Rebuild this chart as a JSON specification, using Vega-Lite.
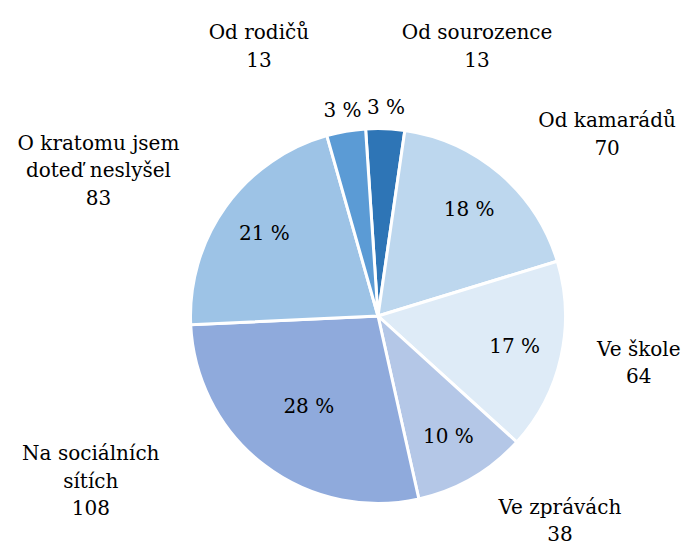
{
  "$schema": "https://vega.github.io/schema/vega-lite/v6.json",
  "autosize": "none",
  "width": 614,
  "height": 462,
  "padding": {"left": 71, "top": 85, "right": 0, "bottom": 0},
  "background": "white",
  "config": {"view": {"stroke": null}, "font": "DejaVu Serif"},
  "data": {
    "values": [
      {"zdroj": "Od sourozence", "pocet": 13, "podil": "3 %", "poradi": 1, "stitek": "Od sourozence\n13"},
      {"zdroj": "Od kamarádů", "pocet": 70, "podil": "18 %", "poradi": 2, "stitek": "Od kamarádů\n70"},
      {"zdroj": "Ve škole", "pocet": 64, "podil": "17 %", "poradi": 3, "stitek": "Ve škole\n64"},
      {"zdroj": "Ve zprávách", "pocet": 38, "podil": "10 %", "poradi": 4, "stitek": "Ve zprávách\n38"},
      {"zdroj": "Na sociálních sítích", "pocet": 108, "podil": "28 %", "poradi": 5, "stitek": "Na sociálních\nsítích\n108"},
      {"zdroj": "O kratomu jsem doteď neslyšel", "pocet": 83, "podil": "21 %", "poradi": 6, "stitek": "O kratomu jsem\ndoteď neslyšel\n83"},
      {"zdroj": "Od rodičů", "pocet": 13, "podil": "3 %", "poradi": 7, "stitek": "Od rodičů\n13"}
    ]
  },
  "encoding": {
    "theta": {"field": "pocet", "type": "quantitative", "stack": true, "scale": {"range": [-0.0663, 6.2169]}},
    "order": {"field": "poradi", "type": "quantitative"}
  },
  "layer": [
    {
      "mark": {"type": "arc", "outerRadius": 187.5, "stroke": "white", "strokeWidth": 3},
      "encoding": {
        "color": {
          "field": "zdroj", "type": "nominal", "legend": null,
          "scale": {
            "domain": ["Od sourozence", "Od kamarádů", "Ve škole", "Ve zprávách", "Na sociálních sítích", "O kratomu jsem doteď neslyšel", "Od rodičů"],
            "range": ["#2E75B6", "#BDD7EE", "#DEEBF7", "#B4C7E7", "#8FAADC", "#9DC3E6", "#5B9BD5"]
          }
        }
      }
    },
    {
      "mark": {"type": "text", "radius": 140, "font": "DejaVu Serif", "fontSize": 20, "color": "black"},
      "encoding": {"text": {"condition": {"test": "datum.pocet > 13 && datum.pocet < 100", "field": "podil"}, "value": ""}}
    },
    {
      "mark": {"type": "text", "radius": 114, "font": "DejaVu Serif", "fontSize": 20, "color": "black"},
      "encoding": {"text": {"condition": {"test": "datum.pocet >= 100", "field": "podil"}, "value": ""}}
    },
    {
      "mark": {"type": "text", "radius": 208, "font": "DejaVu Serif", "fontSize": 20, "color": "black"},
      "encoding": {"text": {"condition": {"test": "datum.pocet <= 13", "field": "podil"}, "value": ""}}
    },
    {
      "mark": {"type": "text", "radius": 306.6, "thetaOffset": -0.2276, "font": "DejaVu Serif", "fontSize": 20, "color": "black", "lineBreak": "\n", "lineHeight": 27.5},
      "encoding": {"text": {"condition": {"test": "datum.zdroj === 'Od rodičů'", "field": "stitek"}, "value": ""}}
    },
    {
      "mark": {"type": "text", "radius": 299.4, "thetaOffset": 0.2986, "font": "DejaVu Serif", "fontSize": 20, "color": "black", "lineBreak": "\n", "lineHeight": 27.5},
      "encoding": {"text": {"condition": {"test": "datum.zdroj === 'Od sourozence'", "field": "stitek"}, "value": ""}}
    },
    {
      "mark": {"type": "text", "radius": 300.6, "thetaOffset": 0.1576, "font": "DejaVu Serif", "fontSize": 20, "color": "black", "lineBreak": "\n", "lineHeight": 27.5},
      "encoding": {"text": {"condition": {"test": "datum.zdroj === 'Od kamarádů'", "field": "stitek"}, "value": ""}}
    },
    {
      "mark": {"type": "text", "radius": 263, "thetaOffset": -0.0918, "font": "DejaVu Serif", "fontSize": 20, "color": "black", "lineBreak": "\n", "lineHeight": 27.5},
      "encoding": {"text": {"condition": {"test": "datum.zdroj === 'Ve škole'", "field": "stitek"}, "value": ""}}
    },
    {
      "mark": {"type": "text", "radius": 264.2, "thetaOffset": -0.2328, "font": "DejaVu Serif", "fontSize": 20, "color": "black", "lineBreak": "\n", "lineHeight": 27.5},
      "encoding": {"text": {"condition": {"test": "datum.zdroj === 'Ve zprávách'", "field": "stitek"}, "value": ""}}
    },
    {
      "mark": {"type": "text", "radius": 318.8, "thetaOffset": 0.4693, "font": "DejaVu Serif", "fontSize": 20, "color": "black", "lineBreak": "\n", "lineHeight": 27.5},
      "encoding": {"text": {"condition": {"test": "datum.zdroj === 'Na sociálních sítích'", "field": "stitek"}, "value": ""}}
    },
    {
      "mark": {"type": "text", "radius": 328.4, "thetaOffset": -0.0717, "font": "DejaVu Serif", "fontSize": 20, "color": "black", "lineBreak": "\n", "lineHeight": 27.5},
      "encoding": {"text": {"condition": {"test": "datum.zdroj === 'O kratomu jsem doteď neslyšel'", "field": "stitek"}, "value": ""}}
    }
  ]
}
